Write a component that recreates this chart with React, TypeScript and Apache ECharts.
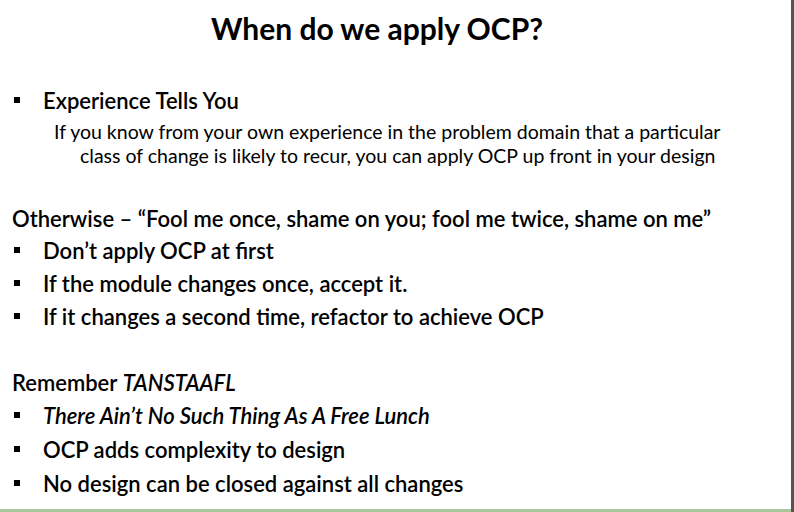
import React, { useEffect, useRef } from "react";
import * as echarts from "echarts";

const title = "When do we apply OCP?";
const section1Bullets = ["Experience Tells You"];
const section1Detail = [
  "If you know from your own experience in the problem domain that a particular",
  "class of change is likely to recur, you can apply OCP up front in your design",
];
const section2Heading = "Otherwise – “Fool me once, shame on you; fool me twice, shame on me”";
const section2Bullets = [
  "Don’t apply OCP at first",
  "If the module changes once, accept it.",
  "If it changes a second time, refactor to achieve OCP",
];
const section3HeadingPlain = "Remember ";
const section3HeadingItalic = "TANSTAAFL";
const section3Bullets = [
  "There Ain’t No Such Thing As A Free Lunch",
  "OCP adds complexity to design",
  "No design can be closed against all changes",
];

const FONT = "Lato, 'Open Sans', sans-serif";

export default function App() {
  const ref = useRef<HTMLDivElement>(null);
  useEffect(() => {
    const chart = echarts.init(ref.current!, null, { renderer: "svg" });
    const els: any[] = [];
    const txt = (x: number, y: number, text: string, size: number, weight: any, style: any = {}) =>
      els.push({
        type: "text",
        x,
        y,
        style: { text, fontFamily: FONT, fontSize: size, fontWeight: weight, fill: "#000", textVerticalAlign: "middle", ...style },
      });
    const bullet = (y: number) =>
      els.push({ type: "rect", shape: { x: 14, y: y - 3, width: 6, height: 6 }, style: { fill: "#000" } });

    txt(377, 28, title, 30, "bold", { textAlign: "center" });
    section1Bullets.forEach((t, i) => {
      bullet(100 + i * 33);
      txt(43, 100 + i * 33, t, 22, 600);
    });
    txt(54, 131, section1Detail[0], 19.5, "normal");
    txt(80, 155, section1Detail[1], 19.5, "normal");
    txt(12, 218, section2Heading, 22, 600);
    section2Bullets.forEach((t, i) => {
      const y = 250 + i * 33;
      bullet(y);
      txt(43, y, t, 22, 600);
    });
    els.push({
      type: "text",
      x: 12,
      y: 382,
      style: {
        text: `{a|${section3HeadingPlain}}{b|${section3HeadingItalic}}`,
        textVerticalAlign: "middle",
        rich: {
          a: { fontFamily: FONT, fontSize: 22, fontWeight: 600, fill: "#000" },
          b: { fontFamily: FONT, fontSize: 22, fontWeight: 600, fontStyle: "italic", fill: "#000" },
        },
      },
    });
    section3Bullets.forEach((t, i) => {
      const y = 415 + i * 34;
      bullet(y);
      txt(43, y, t, 22, 600, i === 0 ? { fontStyle: "italic" } : {});
    });
    els.push({ type: "rect", shape: { x: 791, y: 0, width: 3, height: 512 }, style: { fill: "#555" } });
    els.push({ type: "rect", shape: { x: 0, y: 509, width: 791, height: 3 }, style: { fill: "#a9c79b" } });

    chart.setOption({ animation: false, backgroundColor: "#fff", graphic: { elements: els } });
    return () => chart.dispose();
  }, []);
  return <div ref={ref} style={{ position: "fixed", left: 0, top: 0, width: 794, height: 512 }} />;
}
